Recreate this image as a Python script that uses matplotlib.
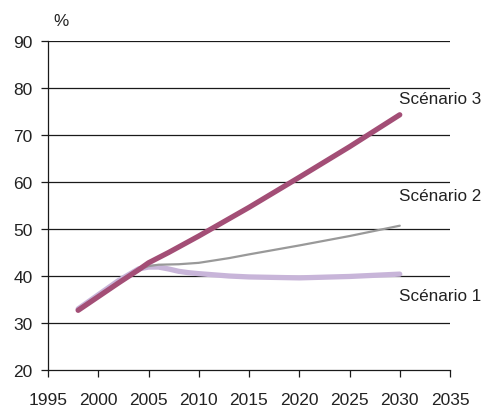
import matplotlib
matplotlib.use("Agg")
import matplotlib.pyplot as plt

plt.rcParams['font.family'] = ['Liberation Sans', 'DejaVu Sans']

years3 = [1998, 2000, 2002, 2004, 2005, 2007, 2010, 2015, 2020, 2025, 2030]
scen3 = [32.7, 35.6, 38.5, 41.3, 42.8, 45.0, 48.5, 54.6, 61.0, 67.5, 74.3]

years2 = [1998, 2000, 2002, 2004, 2005, 2006, 2008, 2010, 2013, 2015, 2020, 2025, 2030]
scen2 = [32.9, 35.8, 38.7, 41.3, 42.1, 42.4, 42.5, 42.8, 43.8, 44.6, 46.5, 48.5, 50.7]

years1 = [1998, 2000, 2002, 2004, 2005, 2006, 2007, 2008, 2009, 2010, 2013, 2015, 2020, 2025, 2030]
scen1 = [33.0, 36.0, 39.0, 41.5, 41.9, 41.9, 41.5, 41.0, 40.7, 40.5, 40.0, 39.8, 39.6, 39.9, 40.4]

xticks = [1995, 2000, 2005, 2010, 2015, 2020, 2025, 2030, 2035]
yticks = [20, 30, 40, 50, 60, 70, 80, 90]
labels = ["Scénario 3", "Scénario 2", "Scénario 1"]

fig = plt.figure(figsize=(4.84, 4.10), dpi=100)
ax = fig.add_axes([48/484, 1-371/410, (450-48)/484, (371-42)/410])

for y in yticks[1:]:
    ax.axhline(y, color='#1a1a1a', lw=0.9, zorder=1)

ax.plot(years1, scen1, color='#C8B5D9', lw=3.8, solid_capstyle='round', solid_joinstyle='round', zorder=2)
ax.plot(years2, scen2, color='#999999', lw=1.6, solid_capstyle='round', solid_joinstyle='round', zorder=3)
ax.plot(years3, scen3, color='#A34E76', lw=3.8, solid_capstyle='round', solid_joinstyle='round', zorder=4)

ax.set_xlim(1995, 2035)
ax.set_ylim(20, 90)
ax.set_xticks(xticks)
ax.set_yticks(yticks)
for s in ['top', 'right']:
    ax.spines[s].set_visible(False)
for s in ['left', 'bottom']:
    ax.spines[s].set_color('#1a1a1a')
    ax.spines[s].set_linewidth(0.9)
ax.tick_params(axis='both', direction='out', length=5, width=0.9, color='#1a1a1a',
               labelsize=12.5, labelcolor='#222222')
ax.tick_params(axis='x', pad=11)
ax.tick_params(axis='y', pad=6)

fs = 12.3
fig.text(399/484, 1-99/410, labels[0], fontsize=fs, color='#222222', va='center', ha='left')
fig.text(399/484, 1-197/410, labels[1], fontsize=fs, color='#222222', va='center', ha='left')
fig.text(399/484, 1-297/410, labels[2], fontsize=fs, color='#222222', va='center', ha='left')
fig.text(53/484, 1-22/410, "%", fontsize=fs, color='#222222', va='center', ha='left')

fig.savefig("out.png", dpi=100)
